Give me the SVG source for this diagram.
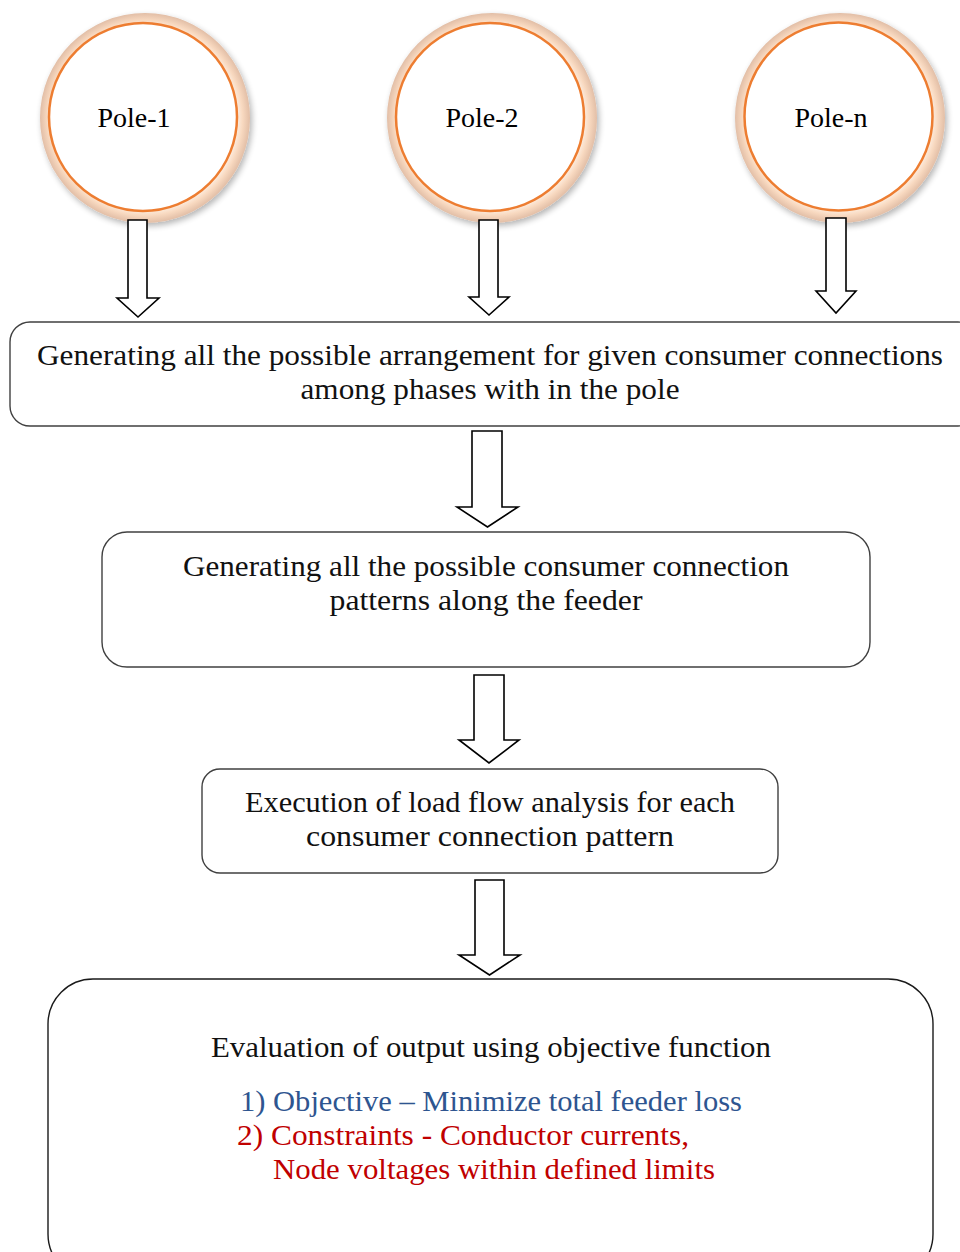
<svg xmlns="http://www.w3.org/2000/svg" width="960" height="1252" viewBox="0 0 960 1252">
<style>
.box{fill:#fff;stroke:#404040;stroke-width:1.4}
.arrow{fill:#fff;stroke:#000;stroke-width:1.6;stroke-linejoin:miter}
.t{font-family:"Liberation Serif","DejaVu Serif",serif;font-size:29px;fill:#111;text-anchor:middle}
.pole{font-family:"Liberation Serif","Times New Roman",serif;font-size:28px;fill:#000;text-anchor:middle}
.blue{fill:#2E5590}
.red{fill:#C00000}
.ring{fill:url(#ringGrad);filter:url(#sh)}
.inner{fill:#fff;stroke:#ED7D31;stroke-width:2.5}
</style>
<defs>
<radialGradient id="ringGrad" cx="0.5" cy="0.5" r="0.5">
<stop offset="0" stop-color="#fff"/>
<stop offset="0.86" stop-color="#FFF4EA"/>
<stop offset="0.93" stop-color="#F8D9C0"/>
<stop offset="1" stop-color="#E2BEA6"/>
</radialGradient>
<filter id="sh" x="-20%" y="-20%" width="150%" height="150%">
<feGaussianBlur in="SourceAlpha" stdDeviation="3"/>
<feOffset dx="2" dy="3" result="b"/>
<feComponentTransfer><feFuncA type="linear" slope="0.3"/></feComponentTransfer>
<feMerge><feMergeNode/><feMergeNode in="SourceGraphic"/></feMerge>
</filter>
</defs>
<rect width="960" height="1252" fill="#fff"/>

<g id="pole-1">
<circle class="ring" cx="145" cy="118" r="105"/>
<circle class="inner" cx="143" cy="117" r="94"/>
<text class="pole" x="134" y="127">Pole-1</text>
</g>
<g id="pole-2">
<circle class="ring" cx="492" cy="118" r="105"/>
<circle class="inner" cx="490" cy="117" r="94"/>
<text class="pole" x="482" y="127">Pole-2</text>
</g>
<g id="pole-n">
<circle class="ring" cx="840" cy="118" r="105"/>
<circle class="inner" cx="838.5" cy="116.5" r="94"/>
<text class="pole" x="831" y="127">Pole-n</text>
</g>

<g id="connectors">
<polygon class="arrow" points="128,220 147,220 147,298 159,298 138,317 117,298 128,298"/>
<polygon class="arrow" points="479,220 498,220 498,297 509,297 489,315 469,297 479,297"/>
<polygon class="arrow" points="826,218 846,218 846,291 856,291 836,313 816,291 826,291"/>
<polygon class="arrow" points="472,431 502,431 502,507 518,507 487.5,527 457,507 472,507"/>
<polygon class="arrow" points="474,675 504,675 504,740 519,740 489,763 459,740 474,740"/>
<polygon class="arrow" points="475,880 504,880 504,955 520,955 489.5,975 459,955 475,955"/>
</g>

<g id="box-arrangement">
<rect class="box" x="10" y="322" width="968" height="104" rx="20"/>
<text class="t" x="490" y="365" textLength="906" lengthAdjust="spacingAndGlyphs">Generating all the possible arrangement for given consumer connections</text>
<text class="t" x="490" y="399" textLength="379" lengthAdjust="spacingAndGlyphs">among phases with in the pole</text>
</g>

<g id="box-patterns">
<rect class="box" x="102" y="532" width="768" height="135" rx="25"/>
<text class="t" x="486" y="576" textLength="606" lengthAdjust="spacingAndGlyphs">Generating all the possible consumer connection</text>
<text class="t" x="486" y="610" textLength="313" lengthAdjust="spacingAndGlyphs">patterns along the feeder</text>
</g>

<g id="box-loadflow">
<rect class="box" x="202" y="769" width="576" height="104" rx="18"/>
<text class="t" x="490" y="812" textLength="490" lengthAdjust="spacingAndGlyphs">Execution of load flow analysis for each</text>
<text class="t" x="490" y="846" textLength="368" lengthAdjust="spacingAndGlyphs">consumer connection pattern</text>
</g>

<g id="box-evaluation">
<rect class="box" x="48" y="979" width="885" height="300" rx="45" style="stroke:#1a1a1a"/>
<text class="t" x="491" y="1057" textLength="560" lengthAdjust="spacingAndGlyphs">Evaluation of output using objective function</text>
<text class="t blue" x="491" y="1111" textLength="502" lengthAdjust="spacingAndGlyphs">1) Objective – Minimize total feeder loss</text>
<text class="t red" x="463" y="1145" textLength="452" lengthAdjust="spacingAndGlyphs">2) Constraints - Conductor currents,</text>
<text class="t red" x="494" y="1179" textLength="442" lengthAdjust="spacingAndGlyphs">Node voltages within defined limits</text>
</g>
</svg>
